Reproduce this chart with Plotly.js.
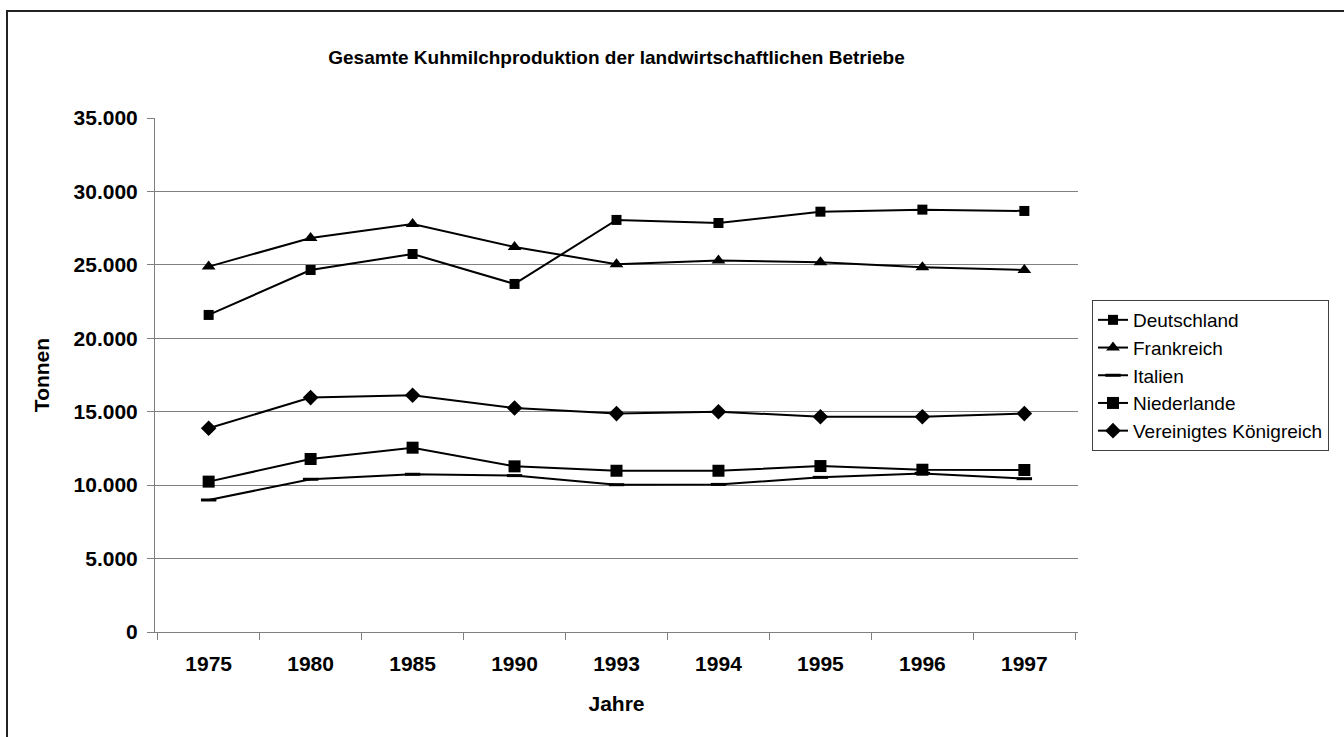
<!DOCTYPE html>
<html>
<head>
<meta charset="utf-8">
<script src="https://cdn.plot.ly/plotly-3.0.1.min.js"></script>
<style>html,body{margin:0;padding:0;background:#fff;}#chart{width:1344px;height:737px;}</style>
</head>
<body>
<div id="chart"></div>
<script>
const years = ["1975","1980","1985","1990","1993","1994","1995","1996","1997"];
const deutschland = [21590, 24650, 25740, 23700, 28060, 27850, 28620, 28760, 28670];
const frankreich = [24880, 26830, 27780, 26220, 25040, 25290, 25180, 24840, 24650];
const italien = [8990, 10400, 10740, 10650, 10030, 10050, 10530, 10800, 10440];
const niederlande = [10240, 11780, 12550, 11280, 10980, 10980, 11300, 11050, 11030];
const vereinigtesKoenigreich = [13870, 15960, 16120, 15250, 14870, 15000, 14660, 14660, 14870];
const yTicks = [0, 5000, 10000, 15000, 20000, 25000, 30000, 35000];

function series(name, y, symbol, size, lineW) {
  return {
    type: 'scatter', mode: 'lines+markers', name: name, x: years, y: y,
    line: {color: '#000', width: 2},
    marker: {symbol: symbol, size: size, color: '#000', line: {color: '#000', width: lineW || 0}}
  };
}

const data = [
  series('Deutschland', deutschland, 'square', 10),
  series('Frankreich', frankreich, 'triangle-up', 12),
  series('Italien', italien, 'line-ew', 11, 3),
  series('Niederlande', niederlande, 'square', 12),
  series('Vereinigtes Königreich', vereinigtesKoenigreich, 'diamond', 12)
];

const fontFam = 'Liberation Sans, Arial, sans-serif';
const layout = {
  width: 1344, height: 737,
  margin: {l: 155, r: 266, t: 118, b: 105},
  paper_bgcolor: '#fff', plot_bgcolor: '#fff',
  separators: ',.',
  font: {family: fontFam, color: '#000', size: 19},
  title: {text: 'Gesamte Kuhmilchproduktion der landwirtschaftlichen Betriebe',
    font: {family: fontFam, size: 19, weight: 'bold', color: '#000'},
    x: 0.5, xref: 'paper', xanchor: 'center', y: 1 - 57/737, yref: 'container', yanchor: 'middle'},
  xaxis: {
    type: 'category', showgrid: false, showline: true, linecolor: '#808080', linewidth: 1,
    ticks: 'outside', tickson: 'boundaries', ticklen: 7, tickcolor: '#808080',
    tickfont: {family: fontFam, size: 21, weight: 'bold'}, ticklabelstandoff: 13,
    title: {text: 'Jahre', font: {family: fontFam, size: 21, weight: 'bold'}, standoff: 22},
    zeroline: false, fixedrange: true
  },
  yaxis: {
    range: [0, 35000], tickvals: yTicks, tickformat: ',d',
    showgrid: true, gridcolor: '#808080', gridwidth: 1,
    showline: true, linecolor: '#808080', linewidth: 1,
    ticks: 'outside', ticklen: 7, tickcolor: '#808080',
    tickfont: {family: fontFam, size: 21, weight: 'bold'}, ticklabelstandoff: 5,
    title: {text: 'Tonnen', font: {family: fontFam, size: 21, weight: 'bold'}, standoff: 18},
    zeroline: false, fixedrange: true
  },
  legend: {
    x: (1092-155)/923, xanchor: 'left', y: (632-300)/514, yanchor: 'top',
    bordercolor: '#404040', borderwidth: 1, bgcolor: '#fff',
    font: {family: fontFam, size: 19, color: '#000'},
    tracegroupgap: 0, itemwidth: 30
  },
  shapes: [{
    type: 'rect', xref: 'paper', yref: 'paper',
    x0: (7-155)/923, x1: 1.6, y0: -0.5, y1: (632-11)/514,
    line: {color: '#222', width: 2}, fillcolor: 'rgba(0,0,0,0)', layer: 'below'
  }],
  showlegend: true
};

Plotly.newPlot('chart', data, layout, {displayModeBar: false, staticPlot: true});
</script>
</body>
</html>
